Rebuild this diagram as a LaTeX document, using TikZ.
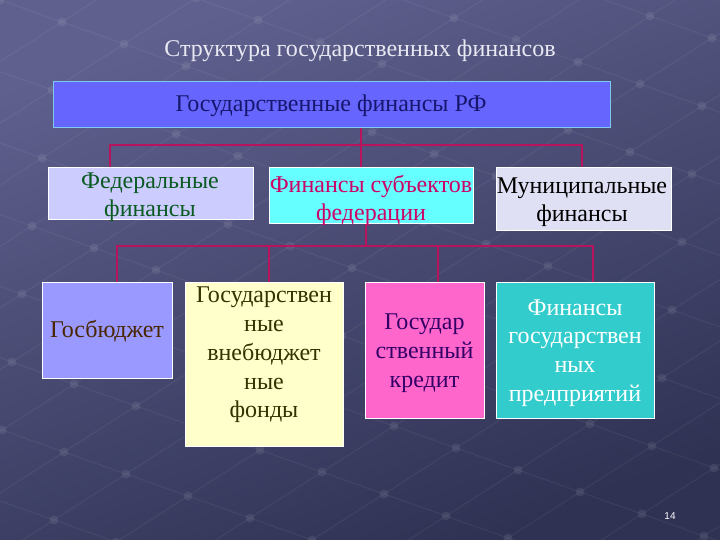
\documentclass[tikz,border=0pt]{standalone}
\usepackage{fontspec}
\setmainfont{Liberation Serif}
\newfontfamily\numfont{Liberation Sans}
\definecolor{bgtop}{HTML}{5F608E}
\definecolor{bgbot}{HTML}{2F3253}
\definecolor{conncol}{HTML}{B8145E}
\definecolor{topfill}{HTML}{6666FF}
\definecolor{topborder}{HTML}{7FC8F0}
\definecolor{toptext}{HTML}{16166E}
\definecolor{fedfill}{HTML}{CCCCFF}
\definecolor{fedtext}{HTML}{0A5A22}
\definecolor{subfill}{HTML}{66FFFF}
\definecolor{subtext}{HTML}{CC0066}
\definecolor{munfill}{HTML}{E0E0F4}
\definecolor{gbfill}{HTML}{9999FF}
\definecolor{gbtext}{HTML}{4A2600}
\definecolor{vbfill}{HTML}{FFFFCC}
\definecolor{vbtext}{HTML}{333300}
\definecolor{krfill}{HTML}{FF66CC}
\definecolor{krtext}{HTML}{330066}
\definecolor{entfill}{HTML}{33CCCC}
\definecolor{titletext}{HTML}{E8E8F2}
\begin{document}
\begin{tikzpicture}[x=1pt,y=-1pt,
  boxnode/.style={draw=white, line width=1pt, inner sep=0pt},
  txt/.style={inner sep=0pt, align=center},
  lvltwo/.style={txt, font=\fontsize{24}{28}\selectfont},
  lvlthree/.style={txt, font=\fontsize{24}{28.7}\selectfont},
  conn/.style={draw=conncol, line width=1.8pt},
  bgline/.style={draw=white, opacity=0.05, line width=1.2pt},
  bgdot/.style={fill=white, opacity=0.08}
]
\useasboundingbox (0,0) rectangle (720,540);
% background
\shade[top color=bgtop, bottom color=bgbot, shading angle=20] (0,0) rectangle (720,540);
\begin{scope}
\clip (0,0) rectangle (720,540);
\foreach \j in {-12,...,28} {
  \draw[bgline] ({-8*72+\j*62},{8*46+\j*22}) -- ({16*72+\j*62},{-16*46+\j*22});
}
\foreach \i in {-8,...,16} {
  \draw[bgline] ({\i*72-12*62},{-\i*46-12*22}) -- ({\i*72+28*62},{-\i*46+28*22});
}
\foreach \i in {-8,...,16} {
  \foreach \j in {-12,...,28} {
    \fill[bgdot] ({\i*72+\j*62},{-\i*46+\j*22}) circle (4.5);
  }
}
\end{scope}

% title
\node[txt, text=titletext, font=\fontsize{24}{27}\selectfont] (title) at (360,51) {Структура государственных финансов};

% level 1
\node[boxnode, draw=topborder, fill=topfill, minimum width=557pt, minimum height=46pt] (top) at (331.5,105) {};
\node[txt, text=toptext, font=\fontsize{24}{27}\selectfont] (topT) at (331,106) {Государственные финансы РФ};

% level 2
\node[boxnode, fill=fedfill, minimum width=205pt, minimum height=52pt] (fed) at (150.5,194) {};
\node[lvltwo, text=fedtext] (fedT) at (150,197) {Федеральные\\финансы};
\node[boxnode, fill=subfill, minimum width=204pt, minimum height=56pt] (sub) at (371,196) {};
\node[lvltwo, text=subtext] (subT) at (371,200) {Финансы субъектов\\федерации};
\node[boxnode, fill=munfill, minimum width=175pt, minimum height=63pt] (mun) at (583.5,199.5) {};
\node[lvltwo, text=black] (munT) at (582,202) {Муниципальные\\финансы};

% level 3
\node[boxnode, fill=gbfill, minimum width=130pt, minimum height=96pt] (gb) at (107,330) {};
\node[lvlthree, text=gbtext] (gbT) at (107,331) {Госбюджет};
\node[boxnode, fill=vbfill, minimum width=158pt, minimum height=164pt] (vb) at (264,364) {};
\node[lvlthree, text=vbtext] (vbT) at (264,355) {Государствен\\ные\\внебюджет\\ные\\фонды};
\node[boxnode, fill=krfill, minimum width=119pt, minimum height=136pt] (kr) at (424.5,350) {};
\node[lvlthree, text=krtext] (krT) at (424.5,353) {Государ\\ственный\\кредит};
\node[boxnode, fill=entfill, minimum width=158pt, minimum height=136pt] (ent) at (575,350) {};
\node[lvlthree, text=white] (entT) at (575,353) {Финансы\\государствен\\ных\\предприятий};

% connectors level 1 -> 2
\coordinate (hA) at (110,145);
\coordinate (hM) at (361,145);
\coordinate (hB) at (582,145);
\draw[conn] (hM |- top.south) -- (hM) -- (hM |- sub.north);
\draw[conn] (hA |- fed.north) -- (hA) -- (hB) -- (hB |- mun.north);

% connectors level 2 -> 3
\coordinate (kM) at (366,246);
\coordinate (kA) at (117,246);
\coordinate (kB) at (269,246);
\coordinate (kC) at (438,246);
\coordinate (kD) at (593,246);
\draw[conn] (kM |- sub.south) -- (kM);
\draw[conn] (kA |- gb.north) -- (kA) -- (kD) -- (kD |- ent.north);
\draw[conn] (kB) -- (kB |- vb.north);
\draw[conn] (kC) -- (kC |- kr.north);

% page number
\node[txt, text=white, font=\numfont\fontsize{10}{12}\selectfont] (pnum) at (670,516) {14};
\end{tikzpicture}
\end{document}
